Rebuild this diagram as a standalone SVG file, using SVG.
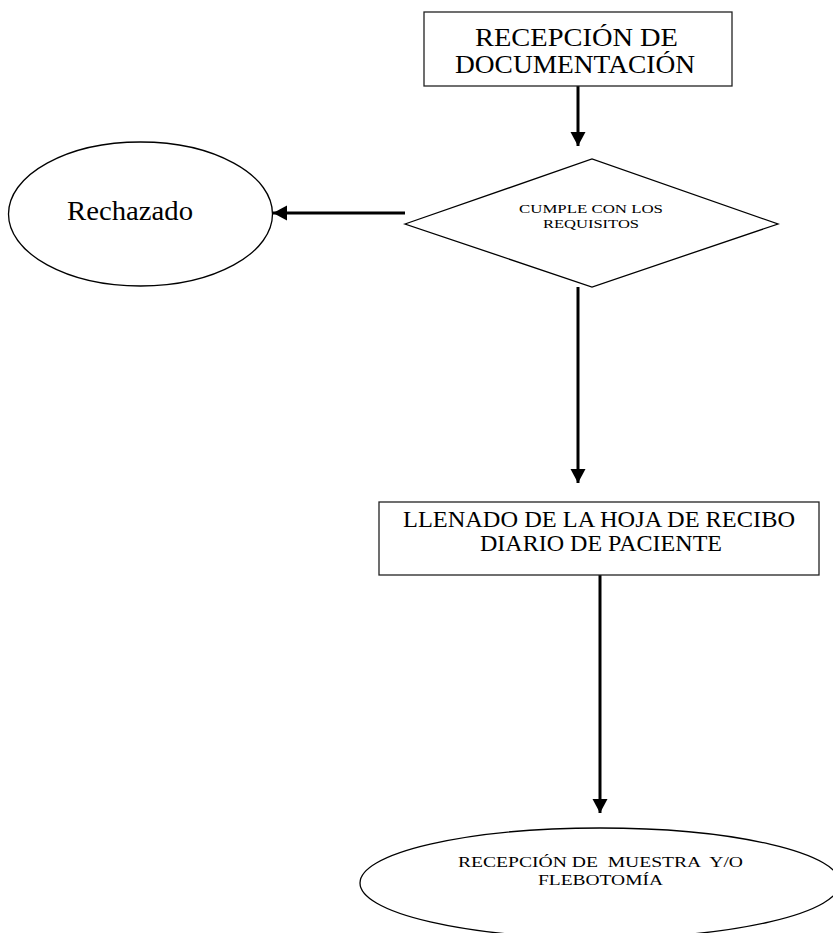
<svg xmlns="http://www.w3.org/2000/svg" width="833" height="933" viewBox="0 0 833 933">
<style>
.shape{fill:#fff;stroke:#000;stroke-width:1.3}
.box{fill:#fff;stroke:#222;stroke-width:1.3}
.t{font-family:"Liberation Serif","Times New Roman",serif;fill:#000;text-anchor:start}
.conn{stroke:#000;stroke-width:3;fill:none}
</style>
<defs>
<marker id="ah" markerUnits="userSpaceOnUse" markerWidth="15" markerHeight="16" refX="14" refY="7.5" orient="auto" viewBox="0 0 15 16">
<path d="M0,0 L14,7.5 L0,15 z" fill="#000"/>
</marker>
</defs>
<rect width="833" height="933" fill="#fff"/>
<g id="connectors">
<line class="conn" x1="578" y1="86" x2="578" y2="146" marker-end="url(#ah)"/>
<line class="conn" x1="405" y1="213" x2="273" y2="213" marker-end="url(#ah)"/>
<line class="conn" x1="578" y1="287" x2="578" y2="483" marker-end="url(#ah)"/>
<line class="conn" x1="600" y1="571" x2="600" y2="813" marker-end="url(#ah)"/>
</g>
<g id="n-recepcion-doc">
<rect class="box" x="424" y="12" width="308" height="74"/>
<text class="t" x="475" y="46" font-size="26" textLength="203" lengthAdjust="spacingAndGlyphs">RECEPCIÓN DE</text>
<text class="t" x="455" y="73" font-size="26" textLength="240" lengthAdjust="spacingAndGlyphs">DOCUMENTACIÓN</text>
</g>
<g id="n-cumple">
<polygon class="shape" points="405,224 592,159 778,224 592,287"/>
<text class="t" x="519" y="213" font-size="13" textLength="144" lengthAdjust="spacingAndGlyphs">CUMPLE CON LOS</text>
<text class="t" x="543" y="228" font-size="13" textLength="96" lengthAdjust="spacingAndGlyphs">REQUISITOS</text>
</g>
<g id="n-rechazado">
<ellipse class="shape" cx="140.5" cy="214" rx="132" ry="72"/>
<text class="t" x="67" y="220" font-size="27" textLength="126" lengthAdjust="spacingAndGlyphs">Rechazado</text>
</g>
<g id="n-llenado">
<rect class="box" x="379" y="502" width="440" height="73"/>
<text class="t" x="403" y="527" font-size="23" textLength="392" lengthAdjust="spacingAndGlyphs">LLENADO DE LA HOJA DE RECIBO</text>
<text class="t" x="480" y="551" font-size="23" textLength="242" lengthAdjust="spacingAndGlyphs">DIARIO DE PACIENTE</text>
</g>
<g id="n-recepcion-muestra">
<ellipse class="shape" cx="600" cy="883" rx="240" ry="55"/>
<text class="t" x="458" y="867" font-size="15" textLength="285" lengthAdjust="spacingAndGlyphs" xml:space="preserve">RECEPCIÓN DE  MUESTRA  Y/O</text>
<text class="t" x="538" y="885" font-size="15" textLength="125" lengthAdjust="spacingAndGlyphs">FLEBOTOMÍA</text>
</g>
</svg>
